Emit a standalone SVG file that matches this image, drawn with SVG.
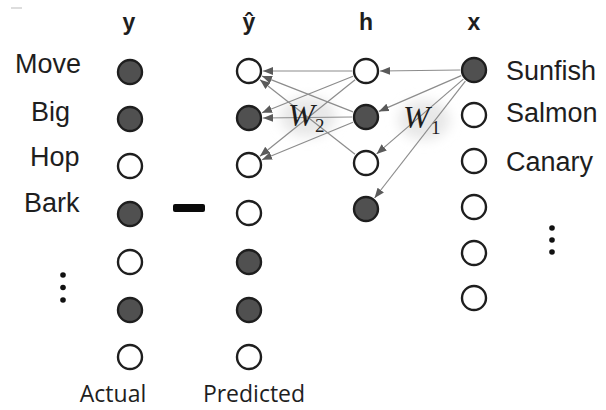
<svg xmlns="http://www.w3.org/2000/svg" width="606" height="410" viewBox="0 0 606 410">
  <style>
    .lbl { font-family: "Liberation Sans", Arial, sans-serif; font-size: 27px; fill: #1e1e1e; }
    .hdr { font-family: "Liberation Sans", Arial, sans-serif; font-size: 23px; font-weight: bold; fill: #1e1e1e; text-anchor: middle; }
    .cap { font-family: "Open Sans", "Noto Sans", sans-serif; font-size: 23px; fill: #1e1e1e; text-anchor: middle; }
    .w { font-family: "Liberation Serif", "Times New Roman", serif; font-style: italic; font-size: 32px; fill: #1e1e1e; }
    .sub { font-family: "Liberation Serif", "Times New Roman", serif; font-size: 19px; fill: #1e1e1e; }
    .on { fill: #505050; stroke: #1e1e1e; stroke-width: 2.4; }
    .off { fill: #ffffff; stroke: #1e1e1e; stroke-width: 2.4; }
    .edge { stroke: #8c8c8c; stroke-width: 1.2; fill: none; marker-end: url(#head); }
    .dot { fill: #111111; }
  </style>
  <defs>
    <marker id="head" markerUnits="userSpaceOnUse" markerWidth="12" markerHeight="10" refX="10" refY="4" orient="auto">
      <path d="M0,0 L10,4 L0,8 Z" fill="#5a5a5a"/>
    </marker>
    <filter id="glow" x="-50%" y="-50%" width="200%" height="200%">
      <feGaussianBlur stdDeviation="6"/>
    </filter>
  </defs>

  <!-- stray mark, top left -->
  <line x1="11" y1="8" x2="22" y2="8" stroke="#bbbbbb" stroke-width="1"/>

  <!-- soft halos behind the weight labels -->
  <ellipse cx="308" cy="117" rx="28" ry="20" fill="#e8e8e8" filter="url(#glow)"/>
  <ellipse cx="424" cy="120" rx="26" ry="20" fill="#e8e8e8" filter="url(#glow)"/>

  <!-- column headers -->
  <text class="hdr" x="129" y="30">y</text>
  <text class="hdr" x="249" y="30">ŷ</text>
  <text class="hdr" x="366" y="30">h</text>
  <text class="hdr" x="474" y="30">x</text>

  <!-- connectors -->
  <g id="connectors">
    <!-- W2: hidden to output -->
    <line class="edge" x1="352" y1="71" x2="263" y2="71"/>
    <line class="edge" x1="353" y1="76.2" x2="262" y2="112.8"/>
    <line class="edge" x1="355.1" y1="79.8" x2="259.9" y2="156.2"/>
    <line class="edge" x1="353" y1="111.9" x2="262" y2="76.1"/>
    <line class="edge" x1="352" y1="117" x2="263" y2="118"/>
    <line class="edge" x1="353" y1="122.3" x2="262" y2="159.7"/>
    <line class="edge" x1="355" y1="154.3" x2="260" y2="79.7"/>
    <!-- W1: input to hidden -->
    <line class="edge" x1="460" y1="70" x2="380" y2="71"/>
    <line class="edge" x1="461.2" y1="75.6" x2="378.8" y2="111.4"/>
    <line class="edge" x1="463.4" y1="79.1" x2="376.6" y2="153.9"/>
    <line class="edge" x1="465.4" y1="81.1" x2="374.6" y2="198"/>
  </g>

  <!-- weight labels -->
  <text class="w" x="288" y="126">W</text><text class="sub" x="315" y="132">2</text>
  <text class="w" x="403" y="128">W</text><text class="sub" x="431" y="134">1</text>

  <!-- actual output column -->
  <g id="actual">
    <circle class="on" cx="130" cy="72" r="12"/>
    <circle class="on" cx="130" cy="119" r="12"/>
    <circle class="off" cx="130" cy="166" r="12"/>
    <circle class="on" cx="130" cy="214" r="12"/>
    <circle class="off" cx="130" cy="262" r="12"/>
    <circle class="on" cx="130" cy="310" r="12"/>
    <circle class="off" cx="130" cy="357" r="12"/>
  </g>

  <!-- predicted output column -->
  <g id="predicted">
    <circle class="off" cx="249" cy="71" r="12"/>
    <circle class="on" cx="249" cy="118" r="12"/>
    <circle class="off" cx="249" cy="165" r="12"/>
    <circle class="off" cx="249" cy="213" r="12"/>
    <circle class="on" cx="249" cy="262" r="12"/>
    <circle class="on" cx="249" cy="310" r="12"/>
    <circle class="off" cx="249" cy="357" r="12"/>
  </g>

  <!-- hidden layer -->
  <g id="hidden">
    <circle class="off" cx="366" cy="71" r="12"/>
    <circle class="on" cx="366" cy="117" r="12"/>
    <circle class="off" cx="366" cy="163" r="12"/>
    <circle class="on" cx="366" cy="209" r="12"/>
  </g>

  <!-- input layer -->
  <g id="input">
    <circle class="on" cx="474" cy="70" r="12"/>
    <circle class="off" cx="474" cy="115" r="12"/>
    <circle class="off" cx="474" cy="161" r="12"/>
    <circle class="off" cx="474" cy="207" r="12"/>
    <circle class="off" cx="474" cy="253" r="12"/>
    <circle class="off" cx="474" cy="298" r="12"/>
  </g>

  <!-- feature labels -->
  <g id="features">
    <text class="lbl" x="15" y="73">Move</text>
    <text class="lbl" x="31" y="121">Big</text>
    <text class="lbl" x="30" y="166">Hop</text>
    <text class="lbl" x="24" y="212">Bark</text>
  </g>

  <!-- item labels -->
  <g id="items">
    <text class="lbl" x="506" y="80">Sunfish</text>
    <text class="lbl" x="506" y="122">Salmon</text>
    <text class="lbl" x="506" y="171">Canary</text>
  </g>

  <!-- ellipses -->
  <circle class="dot" cx="63" cy="275" r="2.8"/>
  <circle class="dot" cx="63" cy="287.5" r="2.8"/>
  <circle class="dot" cx="63" cy="300" r="2.8"/>
  <circle class="dot" cx="552" cy="228" r="2.8"/>
  <circle class="dot" cx="552" cy="240" r="2.8"/>
  <circle class="dot" cx="552" cy="252" r="2.8"/>

  <!-- minus sign -->
  <rect x="173" y="204" width="32" height="8" rx="2" fill="#0a0a0a"/>

  <!-- column captions -->
  <text class="cap" x="113" y="402">Actual</text>
  <text class="cap" x="254" y="402">Predicted</text>
</svg>
